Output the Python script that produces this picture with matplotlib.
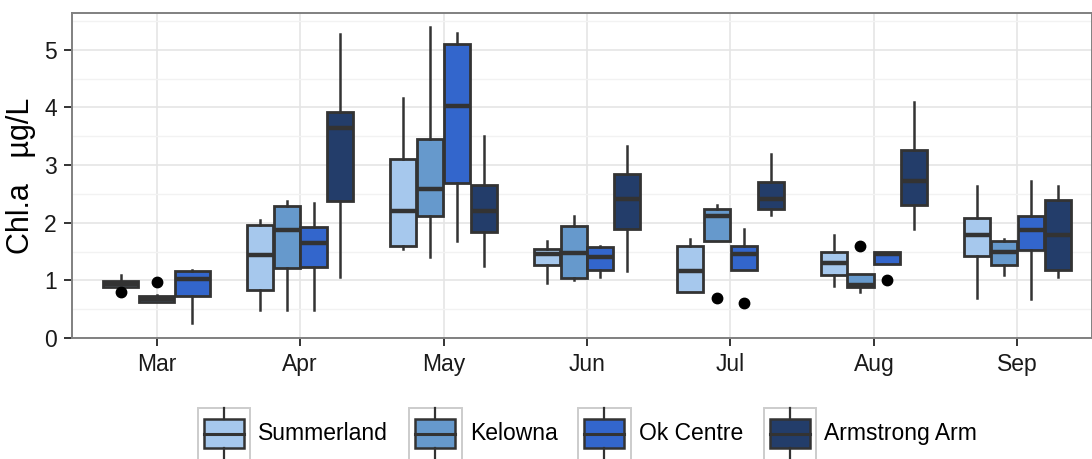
import matplotlib
matplotlib.use("Agg")
import matplotlib.pyplot as plt
from matplotlib.patches import Rectangle
from matplotlib.lines import Line2D
from matplotlib.legend_handler import HandlerBase

plt.rcParams['font.family'] = ['Liberation Sans', 'DejaVu Sans']

# Données (Chl.a, µg/L)
months = ['Mar', 'Apr', 'May', 'Jun', 'Jul', 'Aug', 'Sep']
sites = ['Summerland', 'Kelowna', 'Ok Centre', 'Armstrong Arm']
colors = ['#a6c8ed', '#6699cc', '#3366cc', '#233d6a']

# ordre : lo, q1, med, q3, hi   (None = pas de donnée)
summerland = [
    [0.89, 0.89, 0.94, 0.99, 1.10],
    [0.49, 0.84, 1.44, 1.96, 2.05],
    [1.54, 1.60, 2.20, 3.10, 4.17],
    [0.95, 1.26, 1.45, 1.55, 1.69],
    [0.79, 0.79, 1.17, 1.60, 1.72],
    [0.91, 1.10, 1.30, 1.49, 1.79],
    [0.70, 1.43, 1.79, 2.08, 2.64],
]
kelowna = [
    [0.62, 0.63, 0.68, 0.73, 0.74],
    [0.49, 1.21, 1.87, 2.29, 2.38],
    [1.40, 2.11, 2.58, 3.45, 5.39],
    [1.01, 1.04, 1.47, 1.94, 2.12],
    [1.68, 1.68, 2.11, 2.24, 2.31],
    [0.80, 0.88, 0.92, 1.11, 1.11],
    [1.10, 1.27, 1.50, 1.68, 1.72],
]
ok_centre = [
    [0.26, 0.73, 1.03, 1.16, 1.18],
    [0.49, 1.23, 1.64, 1.92, 2.34],
    [1.69, 2.69, 4.03, 5.10, 5.29],
    [1.06, 1.18, 1.41, 1.58, 1.60],
    [1.18, 1.18, 1.45, 1.60, 1.89],
    [1.29, 1.29, 1.45, 1.49, 1.50],
    [0.68, 1.52, 1.88, 2.12, 2.73],
]
armstrong = [
    None,
    [1.05, 2.37, 3.65, 3.93, 5.28],
    [1.25, 1.84, 2.20, 2.65, 3.50],
    [1.16, 1.90, 2.42, 2.85, 3.33],
    [2.14, 2.24, 2.42, 2.70, 3.19],
    [1.90, 2.31, 2.73, 3.27, 4.09],
    [1.05, 1.18, 1.78, 2.40, 2.63],
]
# valeurs aberrantes : (mois, site, valeur)
outliers = [
    ('Mar', 'Summerland', 0.79),
    ('Mar', 'Kelowna', 0.97),
    ('Jul', 'Kelowna', 0.70),
    ('Jul', 'Ok Centre', 0.60),
    ('Aug', 'Kelowna', 1.60),
    ('Aug', 'Ok Centre', 1.00),
]

all_sites = [summerland, kelowna, ok_centre, armstrong]
edge = '#333333'

fig = plt.figure(figsize=(10.92, 4.59), dpi=100, facecolor='white')
ax = fig.add_axes([0.0659, 0.2636, 0.9341, 0.7081])

for m, month in enumerate(months):
    present = [s for s in range(4) if all_sites[s][m] is not None]
    n = len(present)
    w = 0.75 / n
    for k, s in enumerate(present):
        lo, q1, med, q3, hi = all_sites[s][m]
        fl = [v for (mo, si, v) in outliers if mo == month and si == sites[s]]
        stats = [dict(whislo=lo, q1=q1, med=med, q3=q3, whishi=hi, fliers=fl)]
        pos = m + 1 + (k - (n - 1) / 2) * w
        ax.bxp(stats, positions=[pos], widths=w * 0.97, patch_artist=True,
               showcaps=False, manage_ticks=False,
               boxprops=dict(facecolor=colors[s], edgecolor=edge, linewidth=2.0),
               medianprops=dict(color=edge, linewidth=3.2, solid_capstyle='butt'),
               whiskerprops=dict(color=edge, linewidth=1.8),
               flierprops=dict(marker='o', markerfacecolor='black',
                               markeredgecolor='black', markersize=7.5))

ax.set_xlim(0.41, 7.52)
ax.set_ylim(0, 5.64)
ax.set_xticks(range(1, 8))
ax.set_xticklabels(months)
ax.set_yticks(range(0, 6))
ax.set_yticks([0.5, 1.5, 2.5, 3.5, 4.5, 5.5], minor=True)
ax.tick_params(axis='both', which='major', labelsize=16.5, length=6, width=1.4,
               color='#333333', labelcolor='#1a1a1a', pad=5)
ax.tick_params(axis='y', which='minor', length=0)
ax.grid(True, which='major', color='#e5e5e5', linewidth=1.2)
ax.grid(True, which='minor', axis='y', color='#f2f2f2', linewidth=1.0)
ax.set_axisbelow(True)
for sp in ax.spines.values():
    sp.set_color('#808080')
    sp.set_linewidth(1.4)
ax.set_ylabel('Chl.a   µg/L', fontsize=22, labelpad=6)


class BoxHandler(HandlerBase):
    def create_artists(self, legend, orig_handle, xd, yd, width, height, fontsize, trans):
        x0, y0 = -xd, -yd
        frame = Rectangle((x0, y0), width, height, facecolor='white',
                          edgecolor='#cccccc', linewidth=1.4, transform=trans)
        box = Rectangle((x0 + 0.12 * width, y0 + 0.22 * height), 0.76 * width, 0.56 * height,
                        facecolor=orig_handle.get_facecolor(), edgecolor=edge,
                        linewidth=1.8, transform=trans)
        xc = x0 + width / 2
        w1 = Line2D([xc, xc], [y0, y0 + 0.22 * height], color=edge, linewidth=1.6, transform=trans)
        w2 = Line2D([xc, xc], [y0 + 0.78 * height, y0 + height], color=edge, linewidth=1.6, transform=trans)
        md = Line2D([x0 + 0.12 * width, x0 + 0.88 * width], [y0 + 0.5 * height] * 2,
                    color=edge, linewidth=2.2, transform=trans)
        return [frame, box, w1, w2, md]


handles = [Rectangle((0, 0), 1, 1, facecolor=c) for c in colors]
fig.legend(handles, sites, handler_map={Rectangle: BoxHandler()},
           loc='center', bbox_to_anchor=(0.538, 0.055), ncol=4, frameon=False,
           fontsize=16.5, handlelength=2.3, handleheight=3.1, handletextpad=0.35,
           columnspacing=0.9, borderaxespad=0)

fig.savefig('out.png', dpi=100, facecolor='white')
